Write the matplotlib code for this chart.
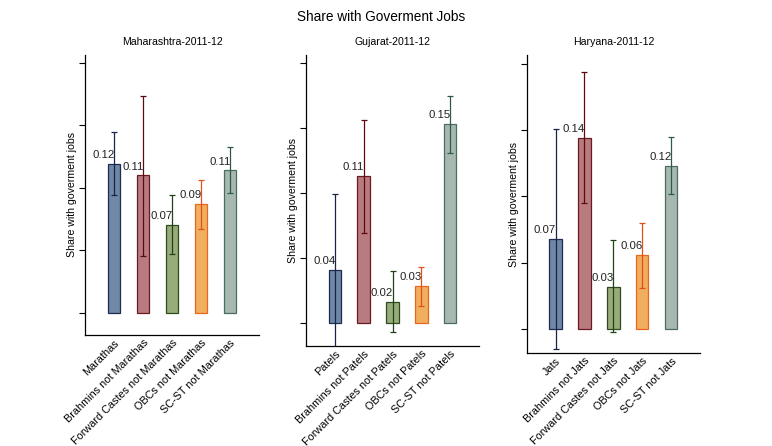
import numpy as np
import matplotlib
matplotlib.use('Agg')
import matplotlib.pyplot as plt

plt.rcParams['font.family'] = ['Liberation Sans', 'DejaVu Sans']

# data
groups = ['Marathas', 'Patels', 'Jats']
states = ['Maharashtra-2011-12', 'Gujarat-2011-12', 'Haryana-2011-12']
cat_suffix = ['', 'Brahmins not {}', 'Forward Castes not {}', 'OBCs not {}', 'SC-ST not {}']

maha_share = [0.119, 0.110, 0.070, 0.087, 0.114]
maha_lo = [0.094, 0.045, 0.047, 0.067, 0.096]
maha_hi = [0.145, 0.174, 0.094, 0.106, 0.133]
maha_labels = ['0.12', '0.11', '0.07', '0.09', '0.11']

guj_share = [0.041, 0.113, 0.016, 0.028, 0.153]
guj_lo = [-0.019, 0.069, -0.007, 0.013, 0.131]
guj_hi = [0.099, 0.156, 0.040, 0.043, 0.175]
guj_labels = ['0.04', '0.11', '0.02', '0.03', '0.15']

har_share = [0.068, 0.144, 0.032, 0.056, 0.123]
har_lo = [-0.015, 0.095, -0.002, 0.031, 0.102]
har_hi = [0.151, 0.194, 0.067, 0.080, 0.145]
har_labels = ['0.07', '0.14', '0.03', '0.06', '0.12']

fill_colors = ['#6e88a6', '#b87b80', '#97ac78', '#f0ae5f', '#a6b8b0']
edge_colors = ['#1e2a50', '#6b1a20', '#2e4a1e', '#e8661e', '#4a6e5c']
err_colors = ['#1a2248', '#5c0a10', '#24401a', '#e0501a', '#2f5a48']

axes_pos = [
    [0.1101, 0.2489, 0.2254, 0.6278],
    [0.3964, 0.2242, 0.2241, 0.6525],
    [0.6822, 0.2085, 0.2245, 0.6682],
]

fig = plt.figure(figsize=(7.72, 4.46), dpi=100)
fig.text(0.494, 0.962, 'Share with Goverment Jobs', ha='center', va='center', fontsize=9.8)

panels = [
    (maha_share, maha_lo, maha_hi, maha_labels),
    (guj_share, guj_lo, guj_hi, guj_labels),
    (har_share, har_lo, har_hi, har_labels),
]

for k, (share, lo, hi, labels) in enumerate(panels):
    ax = fig.add_axes(axes_pos[k])
    x = np.arange(len(share))
    ax.bar(x, share, width=0.43, color=fill_colors, edgecolor=edge_colors, linewidth=0.9, zorder=2)
    for i in range(len(share)):
        ax.errorbar(x[i], share[i],
                    yerr=[[share[i] - lo[i]], [hi[i] - share[i]]],
                    fmt='none', ecolor=err_colors[i], elinewidth=0.9,
                    capsize=2.5, capthick=0.9, zorder=3)
        ax.text(x[i] + 0.02, share[i] + 0.003, labels[i], ha='right', va='bottom',
                fontsize=8.2, color='#222222', zorder=4)
    ax.set_xlim(-1, 5)
    ax.set_ylim(-0.018, 0.2065)
    ax.set_yticks([0, 0.05, 0.1, 0.15, 0.2])
    ax.set_yticklabels([])
    ax.tick_params(axis='y', length=4, width=0.8)
    ax.tick_params(axis='x', length=0, pad=2)
    names = [groups[k]] + [s.format(groups[k]) for s in cat_suffix[1:]]
    ax.set_xticks(x)
    ax.set_xticklabels(names, rotation=45, ha='right', rotation_mode='anchor', fontsize=7.8)
    ax.spines['top'].set_visible(False)
    ax.spines['right'].set_visible(False)
    ax.spines['left'].set_linewidth(0.9)
    ax.spines['bottom'].set_linewidth(0.9)
    ax.set_title(states[k], fontsize=7.6, pad=7)
    ax.set_ylabel('Share with goverment jobs', fontsize=7.6, labelpad=-2)

fig.savefig('out.png', dpi=100)
